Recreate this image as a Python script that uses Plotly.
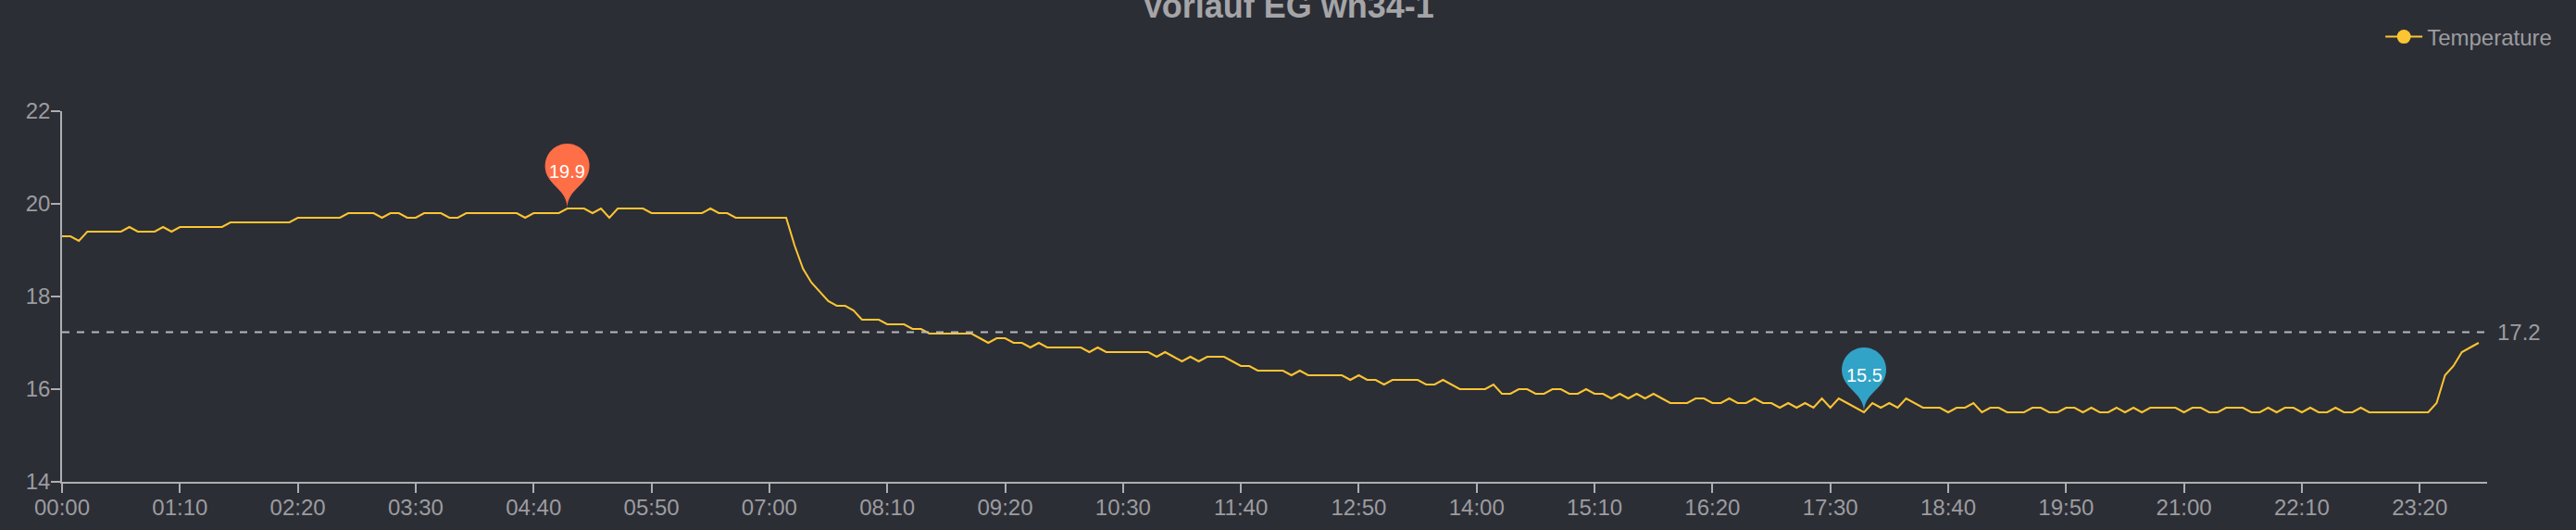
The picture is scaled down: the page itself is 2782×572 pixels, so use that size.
import math
import numpy as np
import plotly.graph_objects as go

# 5-minute readings, one row per hour (00:00 ... 23:55)
temperature = [
    19.3, 19.3, 19.2, 19.4, 19.4, 19.4, 19.4, 19.4, 19.5, 19.4, 19.4, 19.4,
    19.5, 19.4, 19.5, 19.5, 19.5, 19.5, 19.5, 19.5, 19.6, 19.6, 19.6, 19.6,
    19.6, 19.6, 19.6, 19.6, 19.7, 19.7, 19.7, 19.7, 19.7, 19.7, 19.8, 19.8,
    19.8, 19.8, 19.7, 19.8, 19.8, 19.7, 19.7, 19.8, 19.8, 19.8, 19.7, 19.7,
    19.8, 19.8, 19.8, 19.8, 19.8, 19.8, 19.8, 19.7, 19.8, 19.8, 19.8, 19.8,
    19.9, 19.9, 19.9, 19.8, 19.9, 19.7, 19.9, 19.9, 19.9, 19.9, 19.8, 19.8,
    19.8, 19.8, 19.8, 19.8, 19.8, 19.9, 19.8, 19.8, 19.7, 19.7, 19.7, 19.7,
    19.7, 19.7, 19.7, 19.1, 18.6, 18.3, 18.1, 17.9, 17.8, 17.8, 17.7, 17.5,
    17.5, 17.5, 17.4, 17.4, 17.4, 17.3, 17.3, 17.2, 17.2, 17.2, 17.2, 17.2,
    17.2, 17.1, 17.0, 17.1, 17.1, 17.0, 17.0, 16.9, 17.0, 16.9, 16.9, 16.9,
    16.9, 16.9, 16.8, 16.9, 16.8, 16.8, 16.8, 16.8, 16.8, 16.8, 16.7, 16.8,
    16.7, 16.6, 16.7, 16.6, 16.7, 16.7, 16.7, 16.6, 16.5, 16.5, 16.4, 16.4,
    16.4, 16.4, 16.3, 16.4, 16.3, 16.3, 16.3, 16.3, 16.3, 16.2, 16.3, 16.2,
    16.2, 16.1, 16.2, 16.2, 16.2, 16.2, 16.1, 16.1, 16.2, 16.1, 16.0, 16.0,
    16.0, 16.0, 16.1, 15.9, 15.9, 16.0, 16.0, 15.9, 15.9, 16.0, 16.0, 15.9,
    15.9, 16.0, 15.9, 15.9, 15.8, 15.9, 15.8, 15.9, 15.8, 15.9, 15.8, 15.7,
    15.7, 15.7, 15.8, 15.8, 15.7, 15.7, 15.8, 15.7, 15.7, 15.8, 15.7, 15.7,
    15.6, 15.7, 15.6, 15.7, 15.6, 15.8, 15.6, 15.8, 15.7, 15.6, 15.5, 15.7,
    15.6, 15.7, 15.6, 15.8, 15.7, 15.6, 15.6, 15.6, 15.5, 15.6, 15.6, 15.7,
    15.5, 15.6, 15.6, 15.5, 15.5, 15.5, 15.6, 15.6, 15.5, 15.5, 15.6, 15.6,
    15.5, 15.6, 15.5, 15.5, 15.6, 15.5, 15.6, 15.5, 15.6, 15.6, 15.6, 15.6,
    15.5, 15.6, 15.6, 15.5, 15.5, 15.6, 15.6, 15.6, 15.5, 15.5, 15.6, 15.5,
    15.6, 15.6, 15.5, 15.6, 15.5, 15.5, 15.6, 15.5, 15.5, 15.6, 15.5, 15.5,
    15.5, 15.5, 15.5, 15.5, 15.5, 15.5, 15.7, 16.3, 16.5, 16.8, 16.9, 17.0,
]
minutes = list(range(0, 24 * 60, 5))

tick_minutes = list(range(0, 1440, 70))
tick_labels = ['00:00', '01:10', '02:20', '03:30', '04:40', '05:50', '07:00',
               '08:10', '09:20', '10:30', '11:40', '12:50', '14:00', '15:10',
               '16:20', '17:30', '18:40', '19:50', '21:00', '22:10', '23:20']
y_ticks = [14, 16, 18, 20, 22]

BG = '#2c2e36'
GREY = '#9c9c9f'
AXIS = '#aeaeb0'
YELLOW = '#fdc531'
FONT = 'Liberation Sans, Arial, sans-serif'


def pin_path(r=24, h=70, n=4):
    # echarts style pin, tip at (0, 0), pixels, y pointing up
    c = h - r
    dy = r * r / (h - r)
    a = math.asin(dy / r)
    dx = math.cos(a) * r
    ty = c - dy
    pt = lambda t: (r * math.cos(t), c + r * math.sin(t))
    p = f'M {-dx:.2f},{ty:.2f}'
    start, sweep = math.pi + a, (math.pi + 2 * a) / n
    k = 4 / 3 * math.tan(sweep / 4) * r
    for j in range(n):
        t0, t1 = start - j * sweep, start - (j + 1) * sweep
        x0, y0 = pt(t0)
        x3, y3 = pt(t1)
        x1, y1 = x0 + k * math.sin(t0), y0 - k * math.cos(t0)
        x2, y2 = x3 - k * math.sin(t1), y3 + k * math.cos(t1)
        p += f' C {x1:.2f},{y1:.2f} {x2:.2f},{y2:.2f} {x3:.2f},{y3:.2f}'
    cp, cp2 = r * 0.6, r * 0.7
    sx, sy = math.sin(a) * cp, math.cos(a) * cp
    p += f' C {dx - sx:.2f},{ty - sy:.2f} 0,{cp2:.2f} 0,0'
    p += f' C 0,{cp2:.2f} {-dx + sx:.2f},{ty - sy:.2f} {-dx:.2f},{ty:.2f} Z'
    return p


vals = np.array(temperature)
i_max, i_min = int(np.argmax(vals)), int(np.argmin(vals))
avg = float(vals.mean())

fig = go.Figure()
fig.add_trace(go.Scatter(x=minutes, y=temperature, mode='lines',
                         line=dict(color=YELLOW, width=2), showlegend=False))
# legend entry (line with dot, like the echarts legend icon)
fig.add_trace(go.Scatter(x=[None], y=[None], mode='lines+markers', name='Temperature',
                         line=dict(color=YELLOW, width=2),
                         marker=dict(color=YELLOW, size=15)))

fig.add_hline(y=avg, line=dict(color='#b8b8ba', width=2, dash='8px,8px'))
fig.add_annotation(x=1, xref='paper', y=avg, yref='y', text=f'{avg:.1f}',
                   showarrow=False, xanchor='left', xshift=9,
                   font=dict(size=24, color=GREY, family=FONT))

for idx, col in [(i_max, '#fe6e47'), (i_min, '#31a3c6')]:
    fig.add_shape(type='path', path=pin_path(),
                  xsizemode='pixel', ysizemode='pixel',
                  xanchor=minutes[idx], yanchor=temperature[idx],
                  xref='x', yref='y', fillcolor=col, line=dict(width=0))
    fig.add_annotation(x=minutes[idx], y=temperature[idx], text=f'{temperature[idx]:.1f}',
                       showarrow=False, yshift=40, yanchor='middle',
                       font=dict(size=20, color='white', family=FONT))

fig.update_layout(
    width=2782, height=572,
    paper_bgcolor=BG, plot_bgcolor=BG,
    margin=dict(l=67, r=96, t=120, b=52, autoexpand=False),
    font=dict(family=FONT, color=GREY, size=24),
    title=dict(text='<b>Vorlauf EG wn34-1</b>', x=0.5, xanchor='center',
               yref='container', y=0.988, yanchor='middle',
               font=dict(size=36, color='#a5a5a8', family=FONT)),
    legend=dict(xref='container', x=0.9925, xanchor='right',
                yref='container', y=1 - 40 / 572, yanchor='middle',
                font=dict(size=24, color=GREY), bgcolor='rgba(0,0,0,0)',
                itemwidth=40),
    xaxis=dict(range=[0, 1440], tickvals=tick_minutes, ticktext=tick_labels,
               showgrid=False, zeroline=False, showline=True, linecolor=AXIS,
               linewidth=2, ticks='outside', ticklen=10, tickwidth=1.5,
               tickcolor=AXIS, tickfont=dict(size=24, color=GREY),
               ticklabelstandoff=-5),
    yaxis=dict(range=[14, 22], tickvals=y_ticks, showgrid=False, zeroline=False,
               showline=True, linecolor=AXIS, linewidth=1.5, ticks='outside',
               ticklen=10, tickwidth=1.5, tickcolor=AXIS,
               tickfont=dict(size=24, color=GREY), ticklabelstandoff=-4),
)

fig.write_html('out.html', config={'displayModeBar': False},
               post_script="document.body.style.margin='0';"
                           "document.body.style.background='" + BG + "';")
